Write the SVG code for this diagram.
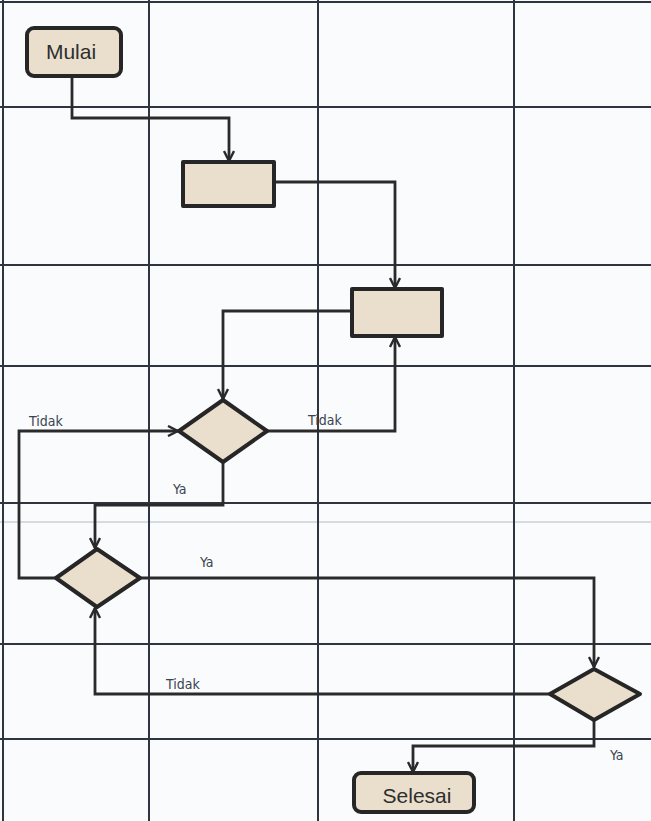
<svg xmlns="http://www.w3.org/2000/svg" width="651" height="821" viewBox="0 0 651 821">
<defs>
<style>
.grid{stroke:#2e3440;stroke-width:2;fill:none}
.faint{stroke:#c9d0d8;stroke-width:1.5;fill:none}
.node{fill:#e9dfcc;stroke:#262626;stroke-width:4;stroke-linejoin:round}
.conn{fill:none;stroke:#2a2a2a;stroke-width:2.8;stroke-linejoin:miter}
.big{font-family:"Liberation Sans",Arial,sans-serif;font-size:21px;fill:#2e2e2e;text-anchor:middle}
.lbl{font-family:"DejaVu Sans Condensed","DejaVu Sans",sans-serif;font-size:14px;fill:#3a4450}
</style>
<marker id="arr" viewBox="0 0 12 12" refX="11" refY="6" markerWidth="12" markerHeight="12" markerUnits="userSpaceOnUse" orient="auto">
<path d="M1,1 L11,6 L1,11" fill="none" stroke="#2a2a2a" stroke-width="2.4"/>
</marker>
</defs>
<rect x="0" y="0" width="651" height="821" fill="#f9fbfd"/>
<g id="grid">
<line class="faint" x1="0" y1="522" x2="651" y2="522"/>
<line class="grid" x1="3" y1="0" x2="3" y2="821"/>
<line class="grid" x1="149" y1="0" x2="149" y2="821"/>
<line class="grid" x1="318" y1="0" x2="318" y2="821"/>
<line class="grid" x1="514" y1="0" x2="514" y2="821"/>
<line class="grid" x1="0" y1="2" x2="651" y2="2"/>
<line class="grid" x1="0" y1="107" x2="651" y2="107"/>
<line class="grid" x1="0" y1="265" x2="651" y2="265"/>
<line class="grid" x1="0" y1="366" x2="651" y2="366"/>
<line class="grid" x1="0" y1="503" x2="651" y2="503"/>
<line class="grid" x1="0" y1="644" x2="651" y2="644"/>
<line class="grid" x1="0" y1="739" x2="651" y2="739"/>
</g>
<g id="connectors">
<polyline class="conn" points="72,76 72,118 229,118 229,161" marker-end="url(#arr)"/>
<polyline class="conn" points="274,182 395,182 395,288" marker-end="url(#arr)"/>
<polyline class="conn" points="352,311 223,311 223,399" marker-end="url(#arr)"/>
<polyline class="conn" points="267,431 395,431 395,337" marker-end="url(#arr)"/>
<polyline class="conn" points="223,462 223,505 95,505 95,548" marker-end="url(#arr)"/>
<polyline class="conn" points="56,578 19,578 19,431 178,431" marker-end="url(#arr)"/>
<polyline class="conn" points="140,578 594,578 594,667" marker-end="url(#arr)"/>
<polyline class="conn" points="550,694 95,694 95,608" marker-end="url(#arr)"/>
<polyline class="conn" points="594,720 594,746 413,746 413,772" marker-end="url(#arr)"/>
<text class="lbl" x="29" y="426">Tidak</text>
<text class="lbl" x="308" y="425">Tidak</text>
<text class="lbl" x="173" y="494">Ya</text>
<text class="lbl" x="200" y="567">Ya</text>
<text class="lbl" x="166" y="689">Tidak</text>
<text class="lbl" x="610" y="760">Ya</text>
</g>
<g id="mulai">
<rect class="node" x="27" y="28" width="94" height="48" rx="7"/>
<text class="big" x="71" y="59">Mulai</text>
</g>
<g id="proses1">
<rect class="node" x="183" y="162" width="91" height="44"/>
</g>
<g id="proses2">
<rect class="node" x="352" y="289" width="90" height="47"/>
</g>
<g id="keputusan1">
<polygon class="node" points="223,400 267,431 223,462 179,431"/>
</g>
<g id="keputusan2">
<polygon class="node" points="97,549 140,578 97,607 56,578"/>
</g>
<g id="keputusan3">
<polygon class="node" points="594,669 640,694 594,720 550,694"/>
</g>
<g id="selesai">
<rect class="node" x="354" y="773" width="120" height="39" rx="7"/>
<text class="big" x="417" y="803">Selesai</text>
</g>
</svg>
